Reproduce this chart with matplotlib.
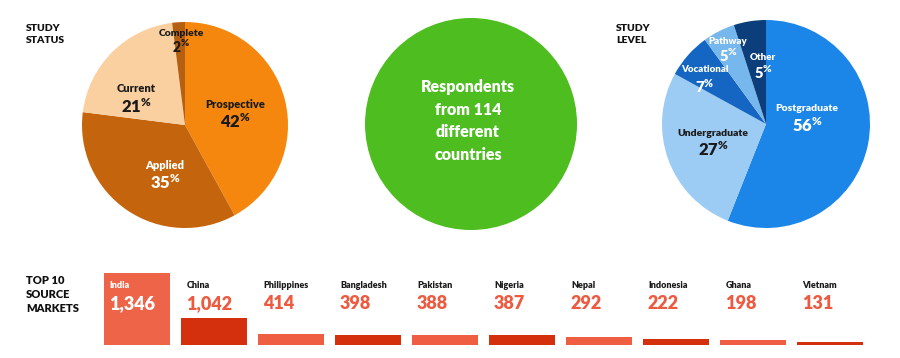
import matplotlib
matplotlib.use("Agg")
import matplotlib.pyplot as plt
from matplotlib.patches import Circle, Rectangle
import matplotlib.transforms as mtransforms

plt.rcParams['font.family'] = ['Lato', 'DejaVu Sans']
plt.rcParams['font.weight'] = 'heavy'
plt.rcParams['mathtext.fontset'] = 'custom'
plt.rcParams['mathtext.rm'] = 'Lato:heavy'
plt.rcParams['mathtext.bf'] = 'Lato:heavy'
plt.rcParams['mathtext.default'] = 'bf'

# study status pie
status_labels = ['Prospective', 'Applied', 'Current', 'Complete']
status_values = [42, 35, 21, 2]
status_colors = ['#F5870F', '#C4650D', '#FBD0A0', '#B55F12']

# study level pie
level_labels = ['Postgraduate', 'Undergraduate', 'Vocational', 'Pathway', 'Other']
level_values = [56, 27, 7, 5, 5]
level_colors = ['#1C86E8', '#9CCBF3', '#1566C2', '#76B7EE', '#0B3E7A']

# top 10 source markets
countries = ['India', 'China', 'Philippines', 'Bangladesh', 'Pakistan',
             'Nigeria', 'Nepal', 'Indonesia', 'Ghana', 'Vietnam']
respondents = [1346, 1042, 414, 398, 388, 387, 292, 222, 198, 131]
n_countries = 114

W, H = 900, 358
fig = plt.figure(figsize=(W / 100, H / 100), dpi=100)
ax = fig.add_axes([0, 0, 1, 1])

# label placement: (x, y) in image pixels, text colour, name size, number size, gap
status_txt = {
    'Prospective': ((235, 113), '#1a1a1a', 8, 12, 17),
    'Applied': ((165, 174), 'white', 8, 12, 17),
    'Current': ((136, 98), '#1a1a1a', 8, 12, 18),
    'Complete': ((181, 40), '#1a1a1a', 7.5, 10, 13),
}
level_txt = {
    'Postgraduate': ((807, 117), 'white', 7.5, 12, 17),
    'Undergraduate': ((713, 142), '#1a1a1a', 7.5, 12, 16),
    'Vocational': ((705, 78), 'white', 7, 11, 16),
    'Pathway': ((728, 48), 'white', 7, 10.5, 14),
    'Other': ((763, 65), 'white', 7, 10.5, 15),
}


def draw_pie(values, labels, colors, center, radius, txt):
    ax.pie(values, colors=colors, startangle=90, counterclock=False,
           center=(center[0], H - center[1]), radius=radius, frame=True,
           wedgeprops=dict(linewidth=0))
    for lab, val in zip(labels, values):
        (x, y), col, s1, s2, gap = txt[lab]
        ax.text(x, H - (y - gap / 2), lab, ha='center', va='center',
                fontsize=s1, color=col)
        ax.text(x, H - (y + gap / 2), r'$%d^{\%%}$' % val, ha='center',
                va='center', fontsize=s2, color=col)


draw_pie(status_values, status_labels, status_colors, (185, 125), 103, status_txt)
draw_pie(level_values, level_labels, level_colors, (766, 124), 104, level_txt)

# green circle
ax.add_patch(Circle((471, H - 124), 106, color='#4DBD1F', lw=0))
ax.text(468, H - 121, 'Respondents\nfrom %d\ndifferent\ncountries' % n_countries,
        ha='center', va='center', fontsize=11.5, color='white', linespacing=1.5)

ax.set_xlim(0, W)
ax.set_ylim(0, H)
ax.axis('off')

# section titles
ax.text(26, H - 24, 'STUDY\nSTATUS', ha='left', va='top', fontsize=7.5,
        color='#111111', linespacing=1.45)
ax.text(616, H - 24, 'STUDY\nLEVEL', ha='left', va='top', fontsize=7.5,
        color='#111111', linespacing=1.45)
ax.text(26, H - 275, 'TOP 10\nSOURCE\nMARKETS', ha='left', va='top',
        fontsize=8, color='#111111', linespacing=1.35)

# bar chart
bax = fig.add_axes([104 / W, 13 / H, 770 / W, 72 / H])
bar_colors = ['#EF5D42' if i % 2 == 0 else '#D5300E' for i in range(len(countries))]
bar_w = 66 / 77
xs = list(range(len(countries)))
bax.bar(xs, respondents, width=bar_w, align='edge', color=bar_colors, lw=0)
bax.set_xlim(0, len(countries))
bax.set_ylim(0, 2740)
bax.axis('off')

# label panel behind the leading market
trans = mtransforms.blended_transform_factory(bax.transData, bax.transAxes)
bax.add_patch(Rectangle((0, 0), bar_w, 1, transform=trans, color='#EE6449', lw=0))

for i, (c, v) in enumerate(zip(countries, respondents)):
    top = i == 0
    bax.text(i + 0.07, 0.82, c, transform=trans, ha='left', va='center',
             fontsize=6.5, color='white' if top else '#1a1a1a')
    bax.text(i + 0.06, 0.57, '{:,}'.format(v), transform=trans, ha='left',
             va='center', fontsize=13, color='white' if top else '#EE5A3F')

fig.savefig('out.png', dpi=100, facecolor='white')
